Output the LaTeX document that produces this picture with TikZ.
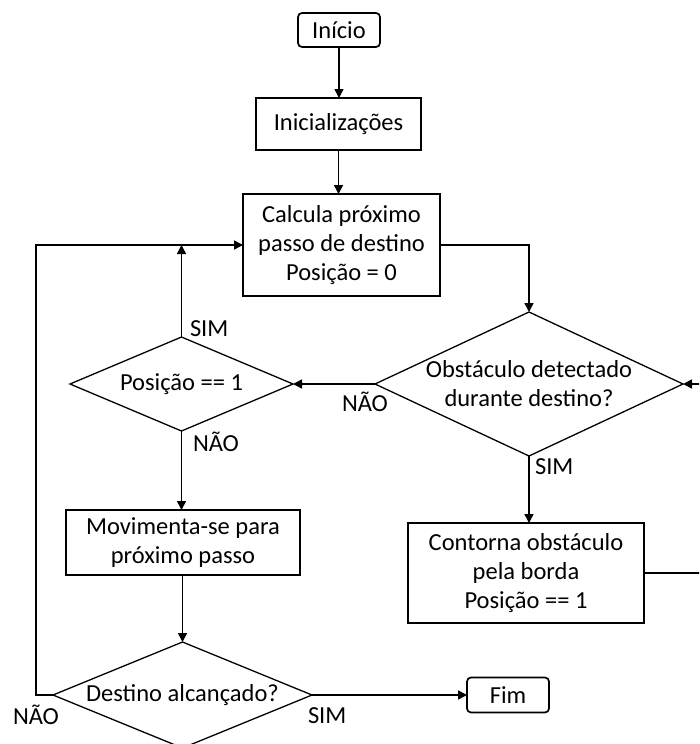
\documentclass[tikz,border=0pt]{standalone}
\usepackage{fontspec}
\setmainfont{Carlito}
\usetikzlibrary{arrows.meta, shapes.geometric}

\begin{document}
\begin{tikzpicture}[x=1pt, y=-1pt, ->, >={Triangle[length=9pt, width=9pt]}, line width=1.5pt,
		every node/.style={font=\fontsize{24.5}{29}\selectfont, inner sep=0pt, outer sep=0pt},
		box/.style={draw, rectangle, align=center, line width=1.7pt},
		terminal/.style={draw, rectangle, rounded corners=4pt, line width=1.7pt},
		decision/.style={draw, diamond, line width=1.3pt},
		answer/.style={anchor=base west}]
		\useasboundingbox (0,0) rectangle (699,744);
		\clip (0,0) rectangle (699,744);
		
		\node[terminal, minimum width=82pt, minimum height=34pt] (inicio) at (339,30) {Início};
		\node[box, minimum width=165pt, minimum height=52pt] (init) at (338.5,124) {Inicializações};
		\node[box, minimum width=197pt, minimum height=102pt] (calc) at (341.5,245) {Calcula próximo\\passo de destino\\Posição = 0};
		
		\node[decision, minimum width=308pt, minimum height=144pt, label={[align=center]center:{Obstáculo detectado\\durante destino?}}] (obst) at (529,384) {};
		\node[box, minimum width=236pt, minimum height=100pt] (cont) at (526,573) {Contorna obstáculo\\pela borda\\Posição == 1};
		
		\node[decision, minimum width=223pt, minimum height=94pt, label={center:Posição == 1}] (pos) at (181.5,384) {};
		\node[box, minimum width=234pt, minimum height=65pt] (mov) at (183,542.5) {Movimenta-se para\\próximo passo};
		\node[decision, minimum width=259pt, minimum height=106pt, label={center:Destino alcançado?}] (dest) at (182.5,695) {};
		\node[terminal, minimum width=82pt, minimum height=35pt] (fim) at (508,695) {Fim};
		
		\node[answer] (simpos) at (190,336) {SIM};
		\node[answer] (naopos) at (193,451) {NÃO};
		\node[answer] (naoobst) at (342,411) {NÃO};
		\node[answer] (simobst) at (535,474) {SIM};
		\node[answer] (naodest) at (13,724) {NÃO};
		\node[answer] (simdest) at (308,723) {SIM};
		
		\coordinate (back) at (36,695);
		\coordinate (loop) at (720,573);
		
		\draw (inicio) -- (inicio |- init.north);
		\draw (init.south) -- (init.south |- calc.north);
		\draw (calc.east) -| (obst.north);
		\draw (obst.south) -- (obst.south |- cont.north);
		\draw (cont.east) -- (loop) |- (obst.east);
		\draw (obst.west) -- (pos.east);
		\draw (pos.north) -- (pos.north |- calc.west);
		\draw (pos.south) -- (pos.south |- mov.north);
		\draw (mov.south -| dest.north) -- (dest.north);
		\draw (dest.east) -- (fim.west);
		\draw (dest.west) -- (back) |- (calc.west);
		
	\end{tikzpicture}
\end{document}
